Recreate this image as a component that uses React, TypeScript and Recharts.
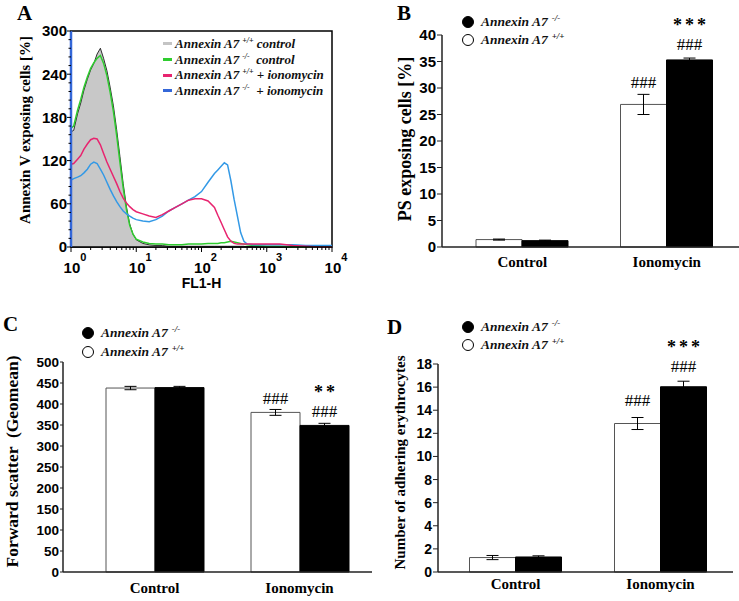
import React from 'react';
import {
  ComposedChart,
  Area,
  Line,
  XAxis,
  YAxis,
  ReferenceArea,
  Legend,
  BarChart,
  Bar,
  ErrorBar,
  LabelList,
} from 'recharts';

const SERIF = '"Liberation Serif", "Times New Roman", Times, serif';
const SANS = '"Liberation Sans", Arial, Helvetica, sans-serif';

// ---- panel A: FL1 histogram ----
const fl1 = [
  1, 1.1, 1.26, 1.41, 1.58, 1.78, 2, 2.24, 2.51, 2.82,
  3.16, 3.55, 3.98, 4.47, 5.01, 5.62, 6.31, 7.08, 7.94, 8.91,
  10, 12.6, 15.8, 20, 25.1, 31.6, 39.8, 50.1, 63.1, 79.4,
  100, 126, 158, 178, 200, 224, 251, 282, 316, 355,
  398, 447, 501, 631, 1000, 1585, 2512, 3981, 6310, 10000,
];
const wtControl = [
  160, 162, 185, 200, 218, 233, 246, 255, 268, 276,
  262, 245, 222, 196, 163, 126, 88, 56, 32, 18,
  10, 5, 3, 2, 2, 1, 1, 1, 1, 1,
  1, 1, 1, 1, 1, 1, 1, 1, 1, 1,
  1, 1, 0, 0, 0, 0, 0, 0, 0, 0,
];
const koControl = [
  165, 168, 190, 205, 222, 236, 248, 256, 262, 266,
  255, 238, 215, 188, 155, 118, 82, 52, 30, 18,
  11, 7, 5, 4, 4, 3, 3, 3, 4, 4,
  4, 5, 5, 5, 6, 6, 7, 8, 7, 6,
  5, 4, 3, 2, 1, 1, 0, 0, 0, 0,
];
const wtIono = [
  115, 116, 122, 127, 136, 143, 149, 151, 150, 142,
  130, 118, 108, 98, 88, 77, 68, 61, 56, 52,
  49, 46, 43, 41, 45, 50, 55, 60, 65, 67,
  67, 64, 55, 44, 34, 24, 14, 8, 5, 4,
  4, 4, 4, 4, 4, 4, 2, 1, 0, 0,
];
const koIono = [
  93, 95, 97, 99, 103, 108, 115, 118, 116, 108,
  100, 90, 80, 71, 63, 56, 50, 46, 43, 40,
  38, 36, 35, 38, 43, 50, 55, 60, 65, 70,
  77, 90, 102, 107, 112, 117, 114, 92, 66, 43,
  20, 8, 4, 3, 3, 3, 3, 2, 2, 2,
];
const flTicks = [
  1, 2, 3, 4, 5, 6, 7, 8, 9, 10, 20, 30, 40, 50, 60, 70, 80, 90,
  100, 200, 300, 400, 500, 600, 700, 800, 900,
  1000, 2000, 3000, 4000, 5000, 6000, 7000, 8000, 9000, 10000,
];
const decades = [1, 10, 100, 1000, 10000];
const decadeExp = ['0', '1', '2', '3', '4'];
const countTicks = [
  0, 12, 24, 36, 48, 60, 72, 84, 96, 108, 120, 132, 144, 156, 168, 180,
  192, 204, 216, 228, 240, 252, 264, 276, 288, 300,
];
const countLabels = [0, 60, 120, 180, 240, 300];

const histSwatch = ['#c4c4c4', '#2fcc2f', '#e8246f', '#3467d8'];
const histGeno = ['+/+', '-/-', '+/+', '-/-'];
const histCond = [' control', '  control', ' + ionomycin', '  + ionomycin'];

const histData = fl1.map((fl, i) => ({
  fl,
  wtCtl: wtControl[i],
  koCtl: koControl[i],
  wtIono: wtIono[i],
  koIono: koIono[i],
}));

// ---- panels B-D: bar charts ----
const groups = ['Control', 'Ionomycin'];

const psWt = [1.4, 26.9];
const psWtErr = [0.1, 1.9];
const psKo = [1.2, 35.3];
const psKoErr = [0.1, 0.35];
const psWtHash = ['', '###'];
const psKoHash = ['', '###'];
const psKoStar = ['', '***'];

const fscWt = [438, 380];
const fscWtErr = [4, 7];
const fscKo = [439, 349];
const fscKoErr = [3, 5];
const fscWtHash = ['', '###'];
const fscKoHash = ['', '###'];
const fscKoStar = ['', '**'];

const adhWt = [1.25, 12.85];
const adhWtErr = [0.18, 0.52];
const adhKo = [1.3, 16.03];
const adhKoErr = [0.1, 0.48];
const adhWtHash = ['', '###'];
const adhKoHash = ['', '###'];
const adhKoStar = ['', '***'];

const legendFill = ['#000', '#fff'];
const legendGeno = ['-/-', '+/+'];

const buildRows = (
  wt: number[], wtErr: number[], ko: number[], koErr: number[],
  wtHash: string[], koHash: string[], koStar: string[],
) =>
  groups.map((group, i) => ({
    group,
    wt: wt[i],
    wtErr: wtErr[i],
    ko: ko[i],
    koErr: koErr[i],
    wtHash: wtHash[i],
    koHash: koHash[i],
    koStar: koStar[i],
  }));

const psData = buildRows(psWt, psWtErr, psKo, psKoErr, psWtHash, psKoHash, psKoStar);
const fscData = buildRows(fscWt, fscWtErr, fscKo, fscKoErr, fscWtHash, fscKoHash, fscKoStar);
const adhData = buildRows(adhWt, adhWtErr, adhKo, adhKoErr, adhWtHash, adhKoHash, adhKoStar);

const yTitle = (text: string, dx: number, dy: number, size: number) => (props: any) => {
  const vb = props.viewBox;
  const cx = vb.x + dx;
  const cy = vb.y + vb.height / 2 + dy;
  return (
    <text
      transform={`translate(${cx},${cy}) rotate(-90)`}
      textAnchor="middle"
      dominantBaseline="central"
      fontFamily={SERIF}
      fontWeight="bold"
      fontSize={size}
      fill="#000"
      style={{ whiteSpace: 'pre' }}
    >
      {text}
    </text>
  );
};

const LogTick = (props: any) => {
  const { x, y, payload } = props;
  const k = decades.indexOf(payload.value);
  const major = k >= 0;
  return (
    <g>
      <line x1={x} x2={x} y1={y} y2={y + (major ? 5 : 3)} stroke="#000" strokeWidth={1} />
      {major && (
        <text x={x + 4} y={y + 26} textAnchor="middle" fontFamily={SANS} fontWeight="bold" fontSize={15} fill="#000">
          10
          <tspan dy={-12} fontSize={11}>
            {decadeExp[k]}
          </tspan>
        </text>
      )}
    </g>
  );
};

const CountTick = (props: any) => {
  const { x, y, payload } = props;
  const major = countLabels.includes(payload.value);
  return (
    <g>
      <line x1={x - (major ? 4 : 2.5)} x2={x} y1={y} y2={y} stroke="#000" strokeWidth={1} />
      {major && (
        <text x={x - 4} y={y} dy="0.36em" textAnchor="end" fontFamily={SANS} fontWeight="bold" fontSize={15} fill="#000">
          {payload.value}
        </text>
      )}
    </g>
  );
};

const HistLegend = () => (
  <div style={{ fontFamily: SERIF, fontStyle: 'italic', fontWeight: 'bold', fontSize: 13, color: '#111' }}>
    {histSwatch.map((c, i) => (
      <div key={i} style={{ display: 'flex', alignItems: 'center', height: 15.7, whiteSpace: 'pre' }}>
        <span style={{ display: 'inline-block', width: 9, height: 3, background: c, marginRight: 3 }} />
        <span>
          Annexin A7
          <span style={{ fontSize: 8, position: 'relative', top: -5, marginLeft: 3 }}>{histGeno[i]}</span>
          {histCond[i]}
        </span>
      </div>
    ))}
  </div>
);

const BarLegend = () => (
  <div style={{ fontFamily: SERIF, fontStyle: 'italic', fontWeight: 'bold', fontSize: 13.5, color: '#111' }}>
    {legendFill.map((f, i) => (
      <div key={i} style={{ display: 'flex', alignItems: 'center', height: 18.4, whiteSpace: 'pre' }}>
        <span
          style={{
            display: 'inline-block',
            width: 12,
            height: 12,
            borderRadius: '50%',
            border: '1px solid #000',
            background: f,
            boxSizing: 'border-box',
            marginRight: 7,
          }}
        />
        <span>
          Annexin A7
          <span style={{ fontSize: 9, position: 'relative', top: -5, marginLeft: 4 }}>{legendGeno[i]}</span>
        </span>
      </div>
    ))}
  </div>
);

// significance text above a bar
const sigMark = (lift: number, size: number, bold: boolean, spacing: number) => (props: any) => {
  const v = props.value;
  if (!v) return null;
  const vb = props.viewBox ?? props;
  return (
    <text
      x={vb.x + vb.width / 2 + spacing / 2}
      y={vb.y - lift}
      textAnchor="middle"
      fontFamily={SERIF}
      fontWeight={bold ? 'bold' : 'normal'}
      fontSize={size}
      letterSpacing={spacing}
      fill="#000"
    >
      {v}
    </text>
  );
};

interface PanelProps {
  data: any[];
  left: number;
  top: number;
  width: number;
  height: number;
  margin: { top: number; right: number; bottom: number; left: number };
  yWidth: number;
  xHeight: number;
  padLeft: number;
  gap: number;
  domain: [number, number];
  ticks: number[];
  tickFont: number;
  tickSize: number;
  xTickMargin: number;
  yLabel: string;
  yLabelDx: number;
  yLabelDy: number;
  yLabelSize: number;
  legendPos: { left: number; top: number };
  lifts: [number, number, number];
}

const BarPanel = (p: PanelProps) => (
  <div style={{ position: 'absolute', left: p.left, top: p.top }}>
    <BarChart
      width={p.width}
      height={p.height}
      data={p.data}
      margin={p.margin}
      barGap={0}
      barCategoryGap={p.gap}
    >
      <XAxis
        dataKey="group"
        height={p.xHeight}
        padding={{ left: p.padLeft, right: 0 }}
        axisLine={{ stroke: '#222', strokeWidth: 1.5 }}
        tickLine={false}
        tickSize={0}
        tickMargin={p.xTickMargin}
        interval={0}
        tick={{ fontFamily: SERIF, fontWeight: 'bold', fontSize: 15, fill: '#000' }}
      />
      <YAxis
        width={p.yWidth}
        domain={p.domain}
        ticks={p.ticks}
        interval={0}
        axisLine={{ stroke: '#222', strokeWidth: 1.5 }}
        tickLine={{ stroke: '#222' }}
        tickSize={p.tickSize}
        tickMargin={1}
        tick={{ fontFamily: SANS, fontWeight: 'bold', fontSize: p.tickFont, fill: '#000' }}
        label={yTitle(p.yLabel, p.yLabelDx, p.yLabelDy, p.yLabelSize)}
      />
      <Legend
        layout="vertical"
        align="center"
        verticalAlign="middle"
        content={<BarLegend />}
        wrapperStyle={{ left: p.legendPos.left, top: p.legendPos.top, width: 160 }}
      />
      <Bar dataKey="wt" name="Annexin A7 +/+" fill="#fff" stroke="#555" strokeWidth={1} isAnimationActive={false}>
        <ErrorBar dataKey="wtErr" width={6} stroke="#000" strokeWidth={1} />
        <LabelList dataKey="wtHash" content={sigMark(p.lifts[0], 17, false, 0)} />
      </Bar>
      <Bar dataKey="ko" name="Annexin A7 -/-" fill="#000" stroke="#000" strokeWidth={1} isAnimationActive={false}>
        <ErrorBar dataKey="koErr" width={6} stroke="#000" strokeWidth={1} />
        <LabelList dataKey="koHash" content={sigMark(p.lifts[1], 17, false, 0)} />
        <LabelList dataKey="koStar" content={sigMark(p.lifts[2], 18, true, 3)} />
      </Bar>
    </BarChart>
  </div>
);

const panelLetter = (text: string, left: number, top: number) => (
  <div
    style={{
      position: 'absolute',
      left,
      top,
      fontFamily: SERIF,
      fontWeight: 'bold',
      fontSize: 21,
      lineHeight: 1,
      color: '#000',
    }}
  >
    {text}
  </div>
);

export default function App() {
  return (
    <div style={{ position: 'absolute', left: 0, top: 0, width: 739, height: 601, overflow: 'hidden', background: '#fff' }}>
      <div style={{ position: 'absolute', left: 0, top: 0 }}>
        <ComposedChart width={350} height={295} data={histData} margin={{ top: 31, right: 18, bottom: 18, left: 0 }}>
          <ReferenceArea x1={1} x2={10000} y1={0} y2={300} fill="none" stroke="#000" strokeWidth={1.5} />
          <XAxis
            dataKey="fl"
            type="number"
            scale="log"
            domain={[1, 10000]}
            ticks={flTicks}
            interval={0}
            height={30}
            axisLine={{ stroke: '#000', strokeWidth: 1.5 }}
            tickLine={false}
            tickSize={0}
            tickMargin={0}
            tick={<LogTick />}
            label={(props: any) => {
              const vb = props.viewBox;
              return (
                <text x={vb.x + vb.width / 2} y={vb.y + 41} textAnchor="middle" fontFamily={SANS} fontWeight="bold" fontSize={14} fill="#000">
                  FL1-H
                </text>
              );
            }}
          />
          <YAxis
            type="number"
            domain={[0, 300]}
            ticks={countTicks}
            interval={0}
            width={71}
            axisLine={{ stroke: '#3467d8', strokeWidth: 2.5 }}
            tickLine={false}
            tickSize={0}
            tickMargin={0}
            tick={<CountTick />}
            label={yTitle('Annexin V exposing cells [%]', 25, -9, 15)}
          />
          <Legend
            layout="vertical"
            align="center"
            verticalAlign="middle"
            content={<HistLegend />}
            wrapperStyle={{ left: 163, top: 36, width: 170 }}
          />
          <Area
            dataKey="wtCtl"
            type="linear"
            fill="#c8c8c8"
            fillOpacity={1}
            stroke="#000"
            strokeWidth={0.8}
            isAnimationActive={false}
          />
          <Line dataKey="koCtl" type="linear" stroke="#2fcc2f" strokeWidth={1.5} dot={false} isAnimationActive={false} />
          <Line dataKey="koIono" type="linear" stroke="#3399e6" strokeWidth={1.5} dot={false} isAnimationActive={false} />
          <Line dataKey="wtIono" type="linear" stroke="#e8246f" strokeWidth={1.5} dot={false} isAnimationActive={false} />
        </ComposedChart>
      </div>

      <BarPanel
        data={psData}
        left={370}
        top={0}
        width={369}
        height={290}
        margin={{ top: 35, right: 0, bottom: 3, left: 0 }}
        yWidth={72}
        xHeight={40}
        padLeft={8}
        gap={26}
        domain={[0, 40]}
        ticks={[0, 5, 10, 15, 20, 25, 30, 35, 40]}
        tickFont={15}
        tickSize={5}
        xTickMargin={9}
        yLabel="PS exposing cells [%]"
        yLabelDx={35}
        yLabelDy={-2}
        yLabelSize={18}
        legendPos={{ left: 92, top: 12.5 }}
        lifts={[16.5, 9.5, 29]}
      />

      <BarPanel
        data={fscData}
        left={0}
        top={290}
        width={372}
        height={311}
        margin={{ top: 72, right: 0, bottom: 4, left: 0 }}
        yWidth={63}
        xHeight={25}
        padLeft={19}
        gap={24}
        domain={[0, 500]}
        ticks={[0, 50, 100, 150, 200, 250, 300, 350, 400, 450, 500]}
        tickFont={13.5}
        tickSize={3}
        xTickMargin={10}
        yLabel="Forward scatter  (Geomean)"
        yLabelDx={12}
        yLabelDy={-5.5}
        yLabelSize={17.5}
        legendPos={{ left: 82, top: 34 }}
        lifts={[8, 8, 27.5]}
      />

      <BarPanel
        data={adhData}
        left={370}
        top={290}
        width={369}
        height={311}
        margin={{ top: 74, right: 6, bottom: 4, left: 0 }}
        yWidth={68}
        xHeight={25}
        padLeft={5}
        gap={26.5}
        domain={[0, 18]}
        ticks={[0, 2, 4, 6, 8, 10, 12, 14, 16, 18]}
        tickFont={14}
        tickSize={5}
        xTickMargin={6}
        yLabel="Number of adhering erythrocytes"
        yLabelDx={29.5}
        yLabelDy={-5.5}
        yLabelSize={15}
        legendPos={{ left: 92, top: 27.5 }}
        lifts={[18, 14.5, 34]}
      />

      {panelLetter('A', 17, 2.5)}
      {panelLetter('B', 397, 2.5)}
      {panelLetter('C', 3, 313.5)}
      {panelLetter('D', 387, 317)}
    </div>
  );
}
